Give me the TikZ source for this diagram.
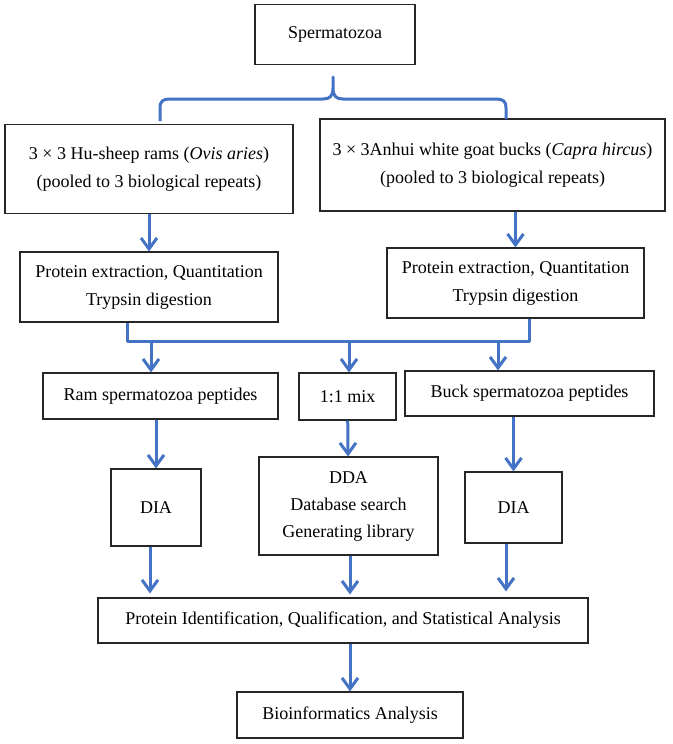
\documentclass[tikz,border=0pt]{standalone}
\usepackage{fontspec}
\setmainfont{Liberation Serif}
\usepackage{xcolor}
\usetikzlibrary{arrows.meta, calc}
\definecolor{flowblue}{RGB}{68,114,196}

\begin{document}
\begin{tikzpicture}[x=1pt, y=-1pt,
	box/.style={draw=black!85, line width=1.1pt, align=center, inner sep=0pt,
		font=\fontsize{18}{28}\selectfont},
	arr/.style={draw=flowblue, line width=3pt, -{Straight Barb[length=11pt,width=16pt]}},
	link/.style={draw=flowblue, line width=3pt, line join=round}]
	\useasboundingbox (0,0) rectangle (672,744);
	
	% Boxes
	\node[box, minimum width=160pt, minimum height=60pt] (sperm) at (335,34.5) {Spermatozoa};
	\node[box, minimum width=288pt, minimum height=89pt] (sheep) at (149,169)
		{3 × 3 Hu-sheep rams (\textit{Ovis aries})\\(pooled to 3 biological repeats)};
	\node[box, minimum width=345pt, minimum height=92pt] (goat) at (492.5,165)
		{3 × 3Anhui white goat bucks (\textit{Capra hircus})\\(pooled to 3 biological repeats)};
	\node[box, minimum width=258pt, minimum height=70pt] (protL) at (149,287)
		{Protein extraction, Quantitation\\Trypsin digestion};
	\node[box, minimum width=257pt, minimum height=70pt] (protR) at (515.5,283)
		{Protein extraction, Quantitation\\Trypsin digestion};
	\node[box, minimum width=235pt, minimum height=46pt] (ram) at (160.5,396) {Ram spermatozoa peptides};
	\node[box, minimum width=97pt, minimum height=47pt] (mix) at (347.5,396.5) {1:1 mix};
	\node[box, minimum width=249pt, minimum height=45pt] (buck) at (529.5,393.5) {Buck spermatozoa peptides};
	\node[box, minimum width=90pt, minimum height=77pt] (diaL) at (156,507.5) {DIA};
	\node[box, minimum width=179pt, minimum height=98pt, font=\fontsize{18}{27}\selectfont] (dda) at (348.5,506)
		{DDA\\Database search\\Generating library};
	\node[box, minimum width=97pt, minimum height=71pt] (diaR) at (513.5,507.5) {DIA};
	\node[box, minimum width=490pt, minimum height=45pt] (ident) at (343,620.5)
		{Protein Identification, Qualification, and Statistical Analysis};
	\node[box, minimum width=226pt, minimum height=46pt] (bio) at (350,715) {Bioinformatics Analysis};
	
	% Brace
	\draw[link] (160,121) -- (160,108) .. controls (160,101) and (163,99) .. (170,99)
		-- (323,99) .. controls (330,99) and (333,96) .. (333,88) -- (333,77)
		-- (333,88) .. controls (333,96) and (336,99) .. (343,99)
		-- (496,99) .. controls (503,99) and (506,101) .. (506,108) -- (506,119);
	
	% Arrows
	\draw[arr] (sheep) -- (protL);
	\draw[arr] (goat.south -| protR) -- (protR);
	
	% Pooling line
	\coordinate (jL) at (127,341);
	\coordinate (jR) at (529,341);
	\draw[link] (protL.south -| jL) -- (jL) -- (jR) -- (protR.south -| jR);
	\foreach \n/\x in {ram/151, mix/349, buck/498} {
		\coordinate (b\n) at (\x,341);
		\draw[arr] (b\n) -- (b\n |- \n.north);
	}
	
	\draw[arr] (ram.south -| diaL) -- (diaL);
	\draw[arr] (mix) -- (dda);
	\draw[arr] (buck.south -| diaR) -- (diaR);
	\draw[arr, shorten >=4pt] (diaL.south -| 150,0) -- (ident.north -| 150,0);
	\draw[arr, shorten >=3pt] (dda.south -| 350,0) -- (ident.north -| 350,0);
	\draw[arr, shorten >=6pt] (diaR.south -| 506,0) -- (ident.north -| 506,0);
	\draw[arr] (ident.south -| bio) -- (bio);
\end{tikzpicture}
\end{document}
